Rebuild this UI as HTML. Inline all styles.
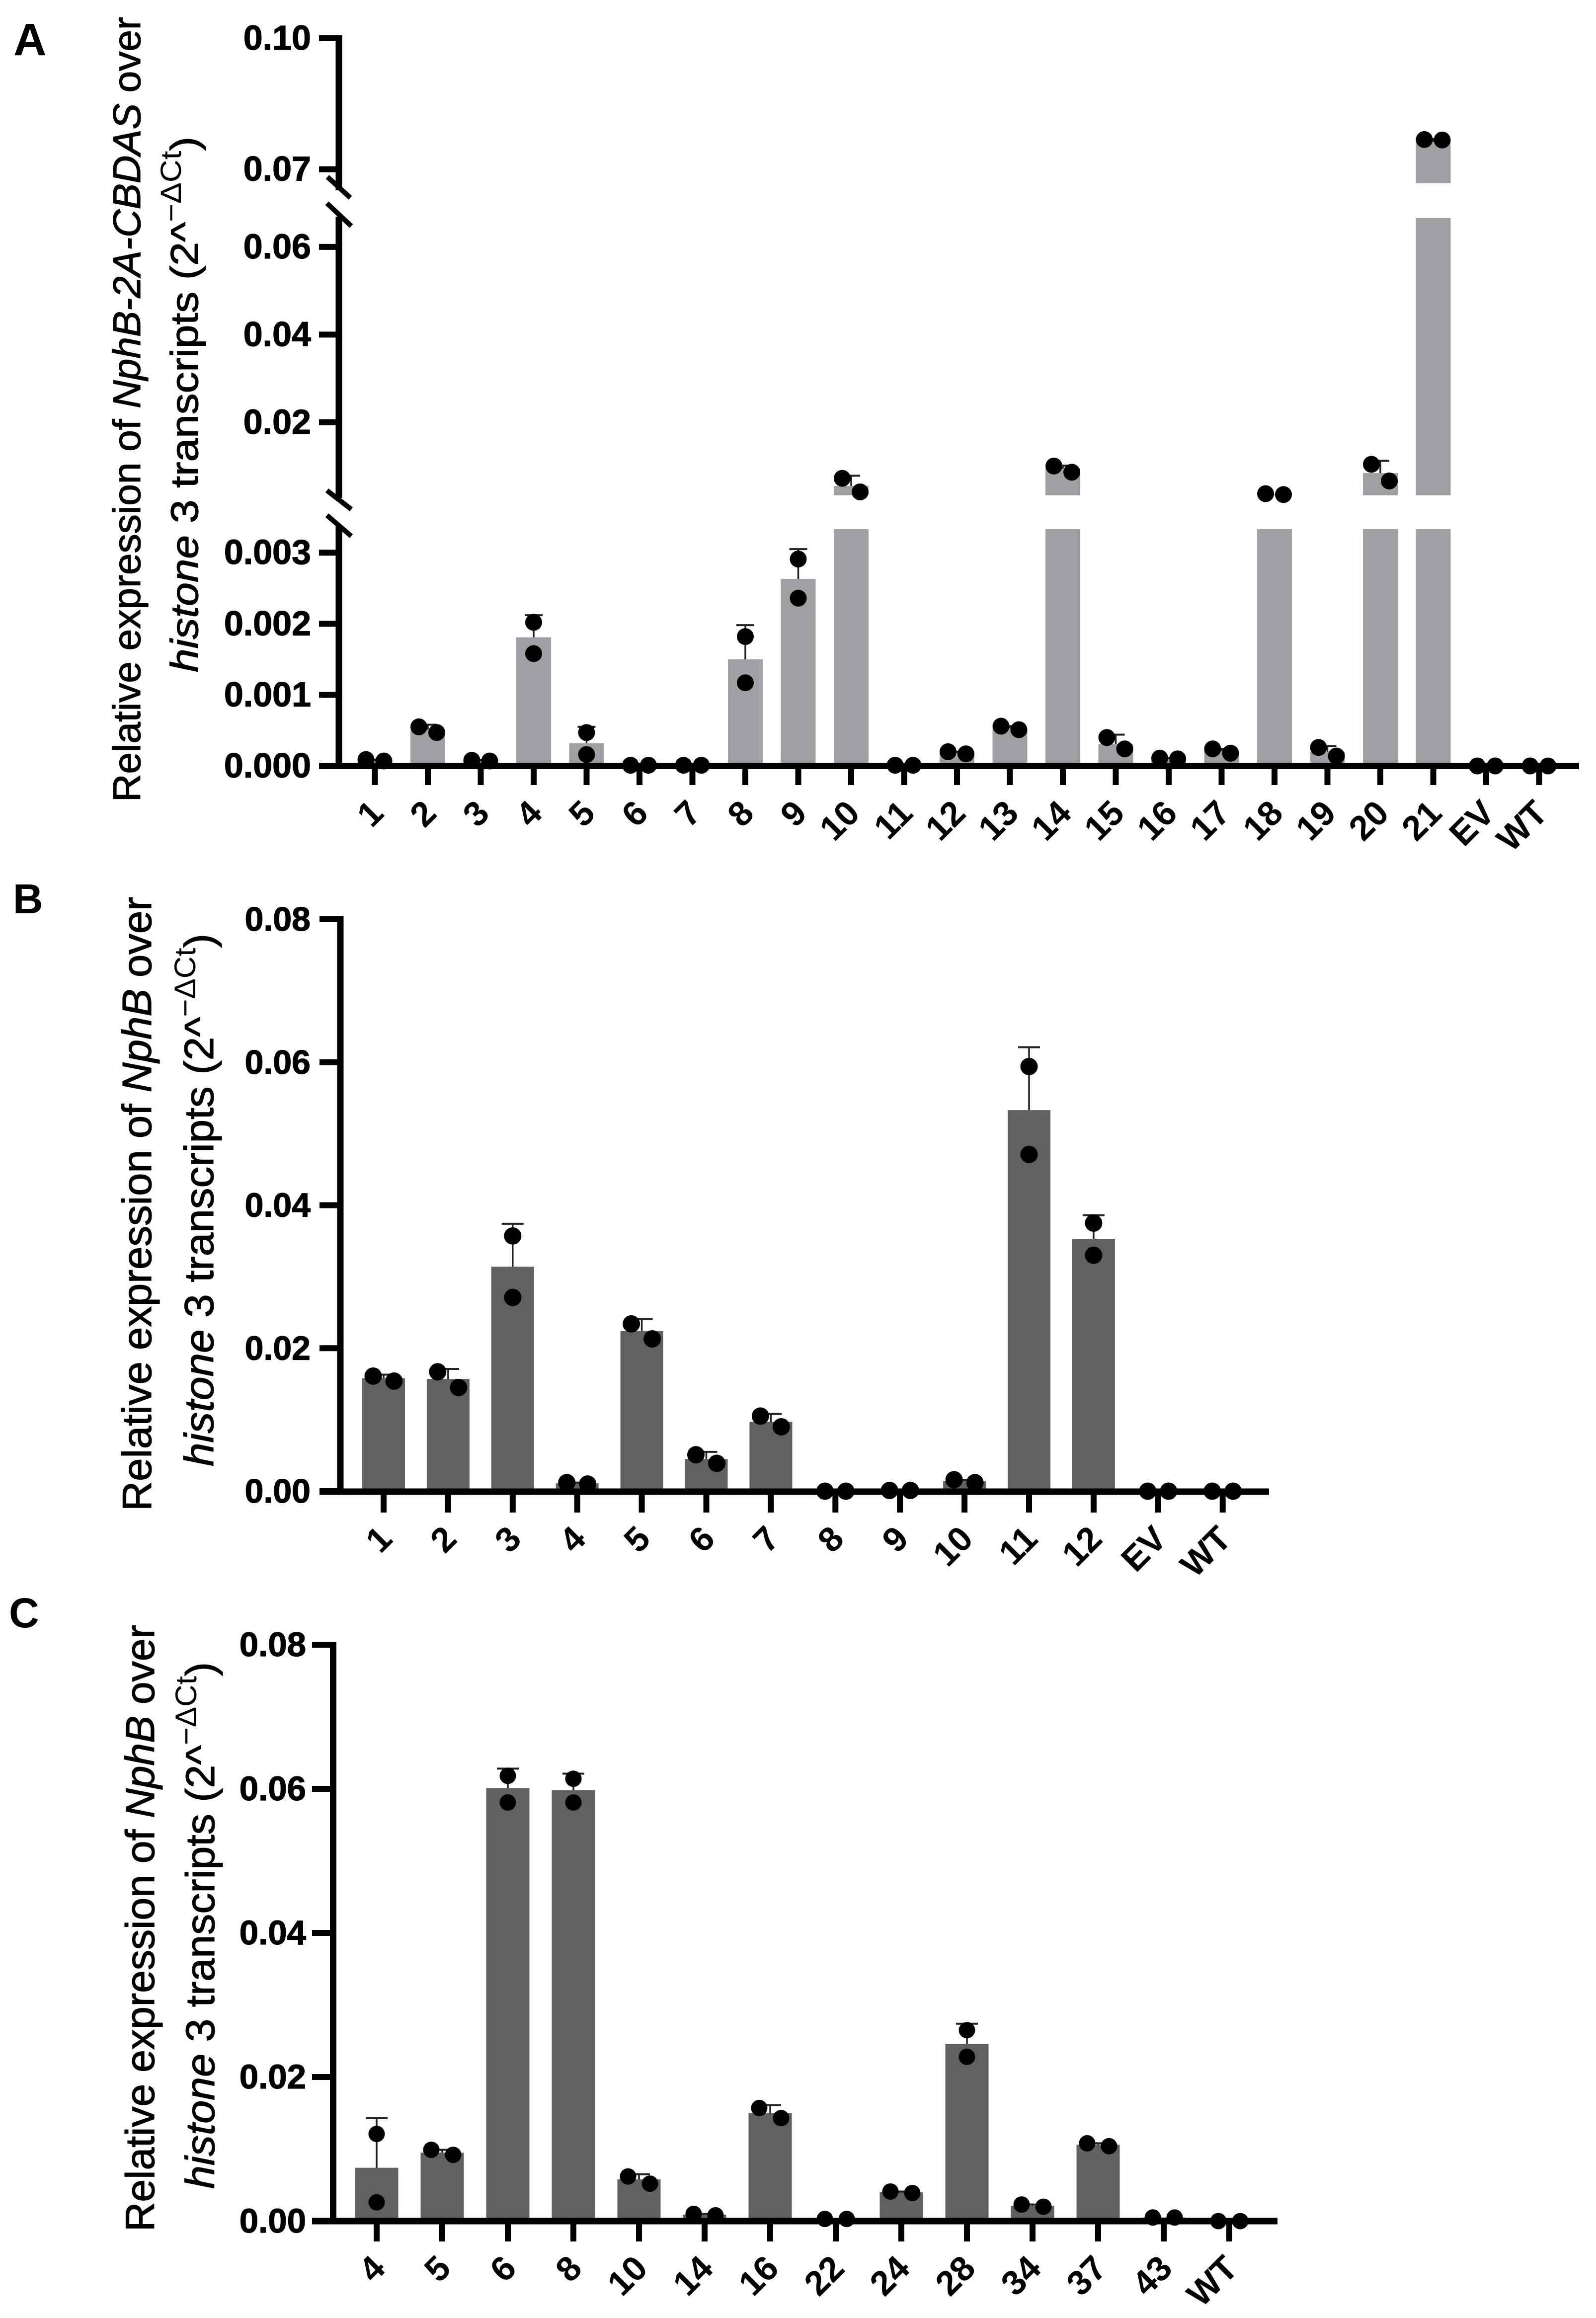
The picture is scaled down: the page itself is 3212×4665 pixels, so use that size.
<!DOCTYPE html>
<html lang="en">
<head>
<meta charset="utf-8">
<title>Relative expression bar charts</title>
<style>
html,body{margin:0;padding:0;background:#fff;}
svg{display:block;font-family:"Liberation Sans",sans-serif;}
.title{stroke:#000;stroke-width:1.2px;}
</style>
</head>
<body>
<svg id="figure" xmlns="http://www.w3.org/2000/svg" width="3212" height="4665" viewBox="0 0 3212 4665">
  <rect width="3212" height="4665" fill="#fff"/>

  <text x="27" y="111" font-size="92" font-weight="700">A</text>
  <text x="26" y="1838" font-size="84" font-weight="700">B</text>
  <text x="18" y="3275" font-size="84" font-weight="700">C</text>

  <text class="title" transform="translate(282,1614) rotate(-90)" font-size="78" textLength="1580" lengthAdjust="spacingAndGlyphs">Relative expression of <tspan font-style="italic">NphB-2A-CBDAS</tspan> over</text>
  <text class="title" transform="translate(398,1353) rotate(-90)" font-size="78" textLength="1078" lengthAdjust="spacingAndGlyphs"><tspan font-style="italic">histone</tspan> 3 transcripts (2^<tspan font-size="58" dy="-34" style="stroke-width:0">−ΔCt</tspan><tspan dy="34">)</tspan></text>

  <text class="title" transform="translate(304,3041) rotate(-90)" font-size="83" textLength="1236" lengthAdjust="spacingAndGlyphs">Relative expression of <tspan font-style="italic">NphB</tspan> over</text>
  <text class="title" transform="translate(429,2951) rotate(-90)" font-size="83" textLength="1072" lengthAdjust="spacingAndGlyphs"><tspan font-style="italic">histone</tspan> 3 transcripts (2^<tspan font-size="60" dy="-36" style="stroke-width:0">−ΔCt</tspan><tspan dy="36">)</tspan></text>

  <text class="title" transform="translate(310,4491) rotate(-90)" font-size="82" textLength="1221" lengthAdjust="spacingAndGlyphs">Relative expression of <tspan font-style="italic">NphB</tspan> over</text>
  <text class="title" transform="translate(431,4405) rotate(-90)" font-size="82" textLength="1060" lengthAdjust="spacingAndGlyphs"><tspan font-style="italic">histone</tspan> 3 transcripts (2^<tspan font-size="60" dy="-36" style="stroke-width:0">−ΔCt</tspan><tspan dy="36">)</tspan></text>

  <g id="chart-a"></g>
  <g id="chart-b"></g>
  <g id="chart-c"></g>
</svg>
<script>
/* ---------- Panel A data ---------- */
const categoriesA = ["1","2","3","4","5","6","7","8","9","10","11","12","13","14","15","16","17","18","19","20","21","EV","WT"];
const meansA = [0.00007,0.00051,0.00007,0.00181,0.00032,0.00001,0.00001,0.0015,0.00263,0.00547,0.00001,0.00019,0.00053,0.0094,0.00031,0.0001,0.00021,0.0036,0.0002,0.0084,0.0763,0,0];
const errorTopsA = [0.00009,0.00058,0.00008,0.00212,0.00055,0.00001,0.00001,0.00198,0.00305,0.0078,0.00001,0.0002,0.00056,0.0101,0.00044,0.00011,0.00024,0.0037,0.00028,0.0112,0.0769,0,0];
const replicate1A = [0.00009,0.00055,0.00008,0.00202,0.00047,0.00001,0.00001,0.00182,0.00291,0.0072,0.00001,0.0002,0.00056,0.01,0.0004,0.00011,0.00024,0.0037,0.00026,0.0104,0.0768,0,0];
const replicate2A = [0.00007,0.00047,0.00007,0.00158,0.00016,0.00001,0.00001,0.00117,0.00236,0.0041,0.00001,0.00017,0.00051,0.0086,0.00024,0.0001,0.00018,0.0035,0.00014,0.0066,0.0767,0,0];
const tickValuesA = [0,0.001,0.002,0.003,0.02,0.04,0.06,0.07,0.10];
const tickLabelsA = ["0.000","0.001","0.002","0.003","0.02","0.04","0.06","0.07","0.10"];

/* ---------- Panel B data ---------- */
const categoriesB = ["1","2","3","4","5","6","7","8","9","10","11","12","EV","WT"];
const meansB = [0.0158,0.0157,0.0314,0.0011,0.0224,0.0045,0.0097,0,0.0001,0.0014,0.0533,0.0353,0,0];
const errorTopsB = [0.0163,0.0171,0.0374,0.0012,0.0241,0.0055,0.0108,0,0.0001,0.0016,0.0621,0.0386,0,0];
const replicate1B = [0.0161,0.0167,0.0357,0.0012,0.0234,0.0051,0.0105,0,0.0001,0.0016,0.0594,0.0375,0,0];
const replicate2B = [0.0154,0.0145,0.0271,0.001,0.0213,0.0039,0.009,0,0.0001,0.0012,0.0471,0.033,0,0];
const tickValuesB = [0,0.02,0.04,0.06,0.08];
const tickLabelsB = ["0.00","0.02","0.04","0.06","0.08"];

/* ---------- Panel C data ---------- */
const categoriesC = ["4","5","6","8","10","14","16","22","24","28","34","37","43","WT"];
const meansC = [0.0074,0.0095,0.0601,0.0598,0.0058,0.0009,0.015,0.0003,0.004,0.0246,0.0021,0.0106,0.0005,0];
const errorTopsC = [0.0143,0.0099,0.0628,0.0621,0.0065,0.001,0.0161,0.0003,0.0041,0.0274,0.0023,0.0108,0.0005,0];
const replicate1C = [0.0121,0.0099,0.0618,0.0614,0.0062,0.001,0.0157,0.0003,0.0041,0.0265,0.0023,0.0108,0.0005,0];
const replicate2C = [0.0026,0.0092,0.0581,0.0581,0.0052,0.0008,0.0143,0.0003,0.0039,0.0228,0.002,0.0104,0.0005,0];
const tickValuesC = [0,0.02,0.04,0.06,0.08];
const tickLabelsC = ["0.00","0.02","0.04","0.06","0.08"];

const SVGNS = "http://www.w3.org/2000/svg";

function make(parent, tag) {
  const el = document.createElementNS(SVGNS, tag);
  parent.appendChild(el);
  return el;
}
function drawLine(el, x1, y1, x2, y2, width, color) {
  el.setAttribute("x1", x1);
  el.setAttribute("y1", y1);
  el.setAttribute("x2", x2);
  el.setAttribute("y2", y2);
  el.setAttribute("stroke", color);
  el.setAttribute("stroke-width", width);
}

/* Axis functions: piecewise linear for panel A, plain linear for B and C */
const segmentsA = [
  {v0:0,      v1:0.00333, p0:1541.5, p1:1065},
  {v0:0.00333,v1:0.0666,  p0:996.8,  p1:438.7},
  {v0:0.0668, v1:0.10,    p0:368.7,  p1:77}
];
const segmentsB = [{v0:0, v1:0.08, p0:3001, p1:1850}];
const segmentsC = [{v0:0, v1:0.08, p0:4470, p1:3310}];

function valueToY(segments, v) {
  for (const s of segments) {
    if (v <= s.v1) {
      const c = Math.max(v, s.v0);
      return s.p0 + (c - s.v0) / (s.v1 - s.v0) * (s.p1 - s.p0);
    }
  }
  const last = segments[segments.length - 1];
  return last.p1;
}

function drawPanel(cfg) {
  const g = document.getElementById(cfg.id);
  const xAt = i => cfg.x0 + i * cfg.step;
  const yAt = v => valueToY(cfg.segments, v);

  /* bars: one rect per axis segment the value reaches */
  cfg.categories.forEach((cat, i) => {
    cfg.segments.forEach(s => {
      const mean = cfg.means[i];
      if (mean <= s.v0) return;
      const top = Math.min(mean, s.v1);
      const yTop = s.p0 + (top - s.v0) / (s.v1 - s.v0) * (s.p1 - s.p0);
      const bar = make(g, "rect");
      
      
      bar.setAttribute("x", xAt(i) - cfg.barW / 2);
      bar.setAttribute("y", yTop);
      bar.setAttribute("width", cfg.barW);
      bar.setAttribute("height", s.p0 - yTop);
      bar.setAttribute("fill", cfg.barColor);
    });
  });

  /* error bars */
  cfg.categories.forEach((cat, i) => {
    const yTop = yAt(cfg.errorTops[i]);
    const yBar = yAt(cfg.means[i]);
    if (yBar - yTop < 1) return;
    const stem = make(g, "line");
    
    
    drawLine(stem, xAt(i), yBar, xAt(i), yTop, 3.5, "#222");
    const cap = make(g, "line");
    
    
    drawLine(cap, xAt(i) - cfg.capHalf, yTop, xAt(i) + cfg.capHalf, yTop, 4, "#222");
  });

  /* y axis line(s) */
  cfg.axisSpans.forEach(span => {
    const axis = make(g, "line");
    
    
    drawLine(axis, cfg.axisX, span[0], cfg.axisX, span[1], 13, "#000");
  });

  /* axis-break slashes */
  cfg.slashes.forEach(sl => {
    const mark = make(g, "line");
    
    
    drawLine(mark, sl[0], sl[1], sl[2], sl[3], 10, "#000");
  });

  /* y ticks and labels */
  cfg.tickValues.forEach((v, i) => {
    const y = yAt(v);
    const tick = make(g, "line");
    
    
    drawLine(tick, cfg.tickLeft, y, cfg.axisX, y, 12, "#000");
    const label = make(g, "text");
    
    
    label.setAttribute("x", cfg.labelRight);
    label.setAttribute("y", y + 23);
    label.setAttribute("text-anchor", "end");
    label.setAttribute("font-size", cfg.yFont);
    label.setAttribute("font-weight", "700");
    label.setAttribute("stroke", "#000");
    label.setAttribute("stroke-width", "1.2");
    label.textContent = cfg.tickLabels[i];
  });

  /* x axis */
  const xAxis = make(g, "line");
  
  
  drawLine(xAxis, cfg.tickLeft, cfg.axisY, cfg.xEnd, cfg.axisY, 13, "#000");

  /* x ticks and labels */
  cfg.categories.forEach((cat, i) => {
    const tick = make(g, "line");
    
    
    drawLine(tick, xAt(i), cfg.axisY, xAt(i), cfg.tickBottom, 12, "#000");
    const label = make(g, "text");
    
    
    const lx = xAt(i) + 21;
    const ly = cfg.axisY + 99;
    label.setAttribute("transform", "translate(" + lx + "," + ly + ") rotate(-45)");
    label.setAttribute("text-anchor", "end");
    label.setAttribute("font-size", 70);
    label.setAttribute("font-weight", "700");
    label.textContent = cat;
  });

  /* replicate dots: spread sideways only when they would overlap */
  cfg.categories.forEach((cat, i) => {
    const y1 = yAt(cfg.rep1[i]);
    const y2 = yAt(cfg.rep2[i]);
    const off = Math.abs(y1 - y2) >= 36 ? 0 : cfg.dotOffset;
    const d1 = make(g, "circle");
    
    
    d1.setAttribute("cx", xAt(i) - off);
    d1.setAttribute("cy", y1);
    d1.setAttribute("r", cfg.dotR);
    d1.setAttribute("fill", "#000");
    const d2 = make(g, "circle");
    
    
    d2.setAttribute("cx", xAt(i) + off);
    d2.setAttribute("cy", y2);
    d2.setAttribute("r", cfg.dotR);
    d2.setAttribute("fill", "#000");
  });
}

drawPanel({
  id:"chart-a", categories:categoriesA, means:meansA, errorTops:errorTopsA, rep1:replicate1A, rep2:replicate2A,
  tickValues:tickValuesA, tickLabels:tickLabelsA, segments:segmentsA,
  x0:754.5, step:106.5, barW:70, barColor:"#a09fa3", capHalf:18, dotOffset:18, dotR:17,
  axisX:682, axisY:1541.5, tickLeft:642, tickBottom:1580, xEnd:3178, labelRight:626, yFont:70,
  axisSpans:[[71,383],[436,1002],[1056,1548]],
  slashes:[[659,356,705,398],[658,409,707,455],[658,987,707,1025],[658,1037,707,1079]]
});
drawPanel({
  id:"chart-b", categories:categoriesB, means:meansB, errorTops:errorTopsB, rep1:replicate1B, rep2:replicate2B,
  tickValues:tickValuesB, tickLabels:tickLabelsB, segments:segmentsB,
  x0:772, step:129.9, barW:86, barColor:"#606060", capHalf:22, dotOffset:21, dotR:17.5,
  axisX:685, axisY:3002, tickLeft:643, tickBottom:3044, xEnd:2554, labelRight:625, yFont:68,
  axisSpans:[[1844,3008]], slashes:[]
});
drawPanel({
  id:"chart-c", categories:categoriesC, means:meansC, errorTops:errorTopsC, rep1:replicate1C, rep2:replicate2C,
  tickValues:tickValuesC, tickLabels:tickLabelsC, segments:segmentsC,
  x0:758, step:132, barW:87, barColor:"#606060", capHalf:22, dotOffset:22, dotR:16.5,
  axisX:670.5, axisY:4470, tickLeft:628, tickBottom:4511, xEnd:2571, labelRight:616, yFont:69,
  axisSpans:[[3304,4476]], slashes:[]
});
</script>
</body>
</html>
